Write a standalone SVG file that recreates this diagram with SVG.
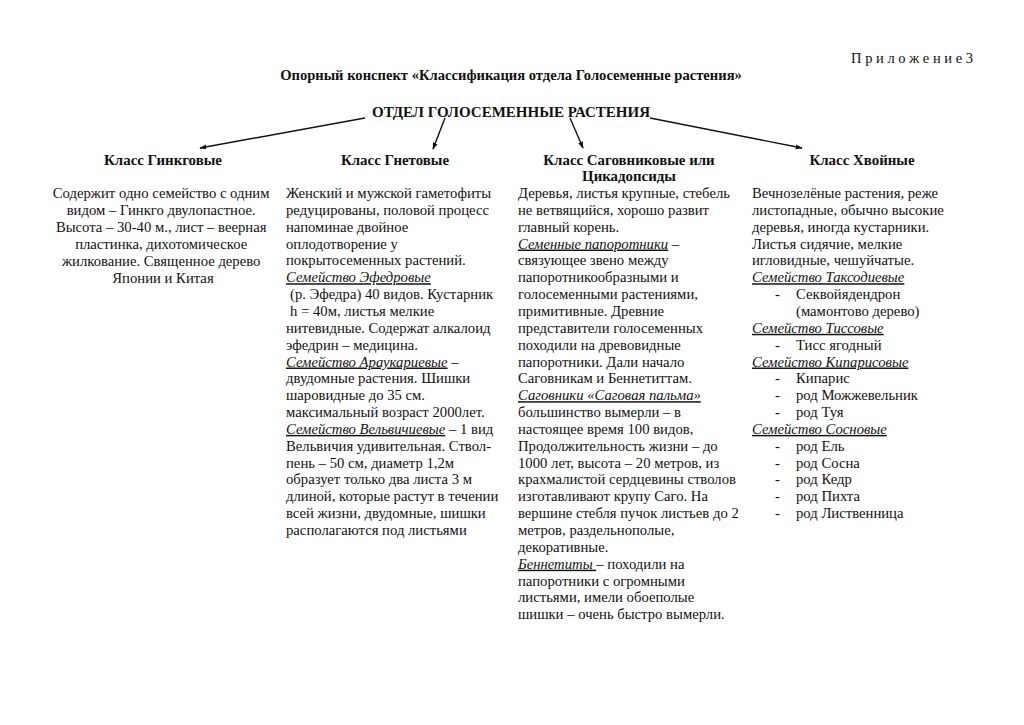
<svg xmlns="http://www.w3.org/2000/svg" width="1024" height="725" viewBox="0 0 1024 725">
<defs>
<style>
text{font-family:"Liberation Serif","Times New Roman",serif;fill:#111;}
.b{font-weight:bold;font-size:14.6px;}
.t{font-size:14.7px;}
.h{font-weight:bold;font-size:14.9px;text-anchor:middle;}
.c{text-anchor:middle;}
.u{font-style:italic;text-decoration:underline;}
.con line{stroke:#111;stroke-width:1.4;marker-end:url(#ah);}
</style>
<marker id="ah" viewBox="0 0 10 10" refX="9" refY="5" markerWidth="7" markerHeight="7" orient="auto" markerUnits="userSpaceOnUse">
<path d="M0,1.5 L10,5 L0,8.5 Z" fill="#111"/>
</marker>
</defs>
<rect width="1024" height="725" fill="#fff"/>
<text x="973" y="63" text-anchor="end" font-size="14.5">П р и л о ж е н и е 3</text>
<text class="b" x="511" y="80" text-anchor="middle">Опорный конспект «Классификация отдела Голосеменные растения»</text>
<g id="root"><text x="511" y="117" text-anchor="middle" font-weight="bold" font-size="15">ОТДЕЛ ГОЛОСЕМЕННЫЕ РАСТЕНИЯ</text></g>
<g class="con" id="connectors">
<line x1="365" y1="118" x2="200" y2="148"/>
<line x1="445" y1="118" x2="433" y2="149"/>
<line x1="570" y1="118" x2="583" y2="148"/>
<line x1="650" y1="118" x2="802" y2="148"/>
</g>
<g id="ginkgo">
<text class="h" x="163" y="165">Класс Гинкговые</text>
<text class="t c">
<tspan x="163" y="198">Содержит одно семейство с одним</tspan>
<tspan x="163" y="215">видом – Гинкго двулопастное.</tspan>
<tspan x="163" y="232">Высота – 30-40 м., лист – веерная</tspan>
<tspan x="163" y="249">пластинка, дихотомическое</tspan>
<tspan x="163" y="266">жилкование. Священное дерево</tspan>
<tspan x="163" y="283">Японии и Китая</tspan>
</text>
</g>
<g id="gnetum">
<text class="h" x="395" y="165">Класс Гнетовые</text>
<text class="t">
<tspan x="286" y="198">Женский и мужской гаметофиты</tspan>
<tspan x="286" y="214.85">редуцированы, половой процесс</tspan>
<tspan x="286" y="231.7">напоминае двойное</tspan>
<tspan x="286" y="248.55">оплодотворение у</tspan>
<tspan x="286" y="265.4">покрытосеменных растений.</tspan>
<tspan x="286" y="282.25" class="u">Семейство Эфедровые</tspan>
<tspan x="290" y="299.1">(р. Эфедра) 40 видов. Кустарник</tspan>
<tspan x="290" y="315.95">h = 40м, листья мелкие</tspan>
<tspan x="286" y="332.8">нитевидные. Содержат алкалоид</tspan>
<tspan x="286" y="349.65">эфедрин – медицина.</tspan>
<tspan x="286" y="366.5"><tspan class="u">Семейство Араукариевые</tspan> –</tspan>
<tspan x="286" y="383.35">двудомные растения. Шишки</tspan>
<tspan x="286" y="400.2">шаровидные до 35 см.</tspan>
<tspan x="286" y="417.05">максимальный возраст 2000лет.</tspan>
<tspan x="286" y="433.9"><tspan class="u">Семейство Вельвичиевые</tspan> – 1 вид</tspan>
<tspan x="286" y="450.75">Вельвичия удивительная. Ствол-</tspan>
<tspan x="286" y="467.6">пень – 50 см, диаметр 1,2м</tspan>
<tspan x="286" y="484.45">образует только два листа 3 м</tspan>
<tspan x="286" y="501.3">длиной, которые растут в течении</tspan>
<tspan x="286" y="518.15">всей жизни, двудомные, шишки</tspan>
<tspan x="286" y="535">располагаются под листьями</tspan>
</text>
</g>
<g id="cycad">
<text class="h"><tspan x="629" y="165">Класс Саговниковые или</tspan><tspan x="629" y="181">Цикадопсиды</tspan></text>
<text class="t">
<tspan x="518" y="198">Деревья, листья крупные, стебель</tspan>
<tspan x="518" y="214.85">не ветвящийся, хорошо развит</tspan>
<tspan x="518" y="231.7">главный корень.</tspan>
<tspan x="518" y="248.55"><tspan class="u">Семенные папоротники</tspan> –</tspan>
<tspan x="518" y="265.4">связующее звено между</tspan>
<tspan x="518" y="282.25">папоротникообразными и</tspan>
<tspan x="518" y="299.1">голосеменными растениями,</tspan>
<tspan x="518" y="315.95">примитивные. Древние</tspan>
<tspan x="518" y="332.8">представители голосеменных</tspan>
<tspan x="518" y="349.65">походили на древовидные</tspan>
<tspan x="518" y="366.5">папоротники. Дали начало</tspan>
<tspan x="518" y="383.35">Саговникам и Беннетиттам.</tspan>
<tspan x="518" y="400.2" class="u">Саговники «Саговая пальма»</tspan>
<tspan x="518" y="417.05">большинство вымерли – в</tspan>
<tspan x="518" y="433.9">настоящее время 100 видов,</tspan>
<tspan x="518" y="450.75">Продолжительность жизни – до</tspan>
<tspan x="518" y="467.6">1000 лет, высота – 20 метров, из</tspan>
<tspan x="518" y="484.45">крахмалистой сердцевины стволов</tspan>
<tspan x="518" y="501.3">изготавливают крупу Саго. На</tspan>
<tspan x="518" y="518.15">вершине стебля пучок листьев до 2</tspan>
<tspan x="518" y="535">метров, раздельнополые,</tspan>
<tspan x="518" y="551.85">декоративные.</tspan>
<tspan x="518" y="568.7"><tspan class="u">Беннетиты </tspan>– походили на</tspan>
<tspan x="518" y="585.55">папоротники с огромными</tspan>
<tspan x="518" y="602.4">листьями, имели обоеполые</tspan>
<tspan x="518" y="619.25">шишки – очень быстро вымерли.</tspan>
</text>
</g>
<g id="conifers">
<text class="h" x="862" y="165">Класс Хвойные</text>
<text class="t">
<tspan x="752" y="198">Вечнозелёные растения, реже</tspan>
<tspan x="752" y="214.85">листопадные, обычно высокие</tspan>
<tspan x="752" y="231.7">деревья, иногда кустарники.</tspan>
<tspan x="752" y="248.55">Листья сидячие, мелкие</tspan>
<tspan x="752" y="265.4">игловидные, чешуйчатые.</tspan>
<tspan x="752" y="282.25" class="u">Семейство Таксодиевые</tspan>
<tspan x="775" y="299.1">-</tspan><tspan x="796" y="299.1">Секвойядендрон</tspan>
<tspan x="796" y="315.95">(мамонтово дерево)</tspan>
<tspan x="752" y="332.8" class="u">Семейство Тиссовые</tspan>
<tspan x="775" y="349.65">-</tspan><tspan x="796" y="349.65">Тисс ягодный</tspan>
<tspan x="752" y="366.5" class="u">Семейство Кипарисовые</tspan>
<tspan x="775" y="383.35">-</tspan><tspan x="796" y="383.35">Кипарис</tspan>
<tspan x="775" y="400.2">-</tspan><tspan x="796" y="400.2">род Можжевельник</tspan>
<tspan x="775" y="417.05">-</tspan><tspan x="796" y="417.05">род Туя</tspan>
<tspan x="752" y="433.9" class="u">Семейство Сосновые</tspan>
<tspan x="775" y="450.75">-</tspan><tspan x="796" y="450.75">род Ель</tspan>
<tspan x="775" y="467.6">-</tspan><tspan x="796" y="467.6">род Сосна</tspan>
<tspan x="775" y="484.45">-</tspan><tspan x="796" y="484.45">род Кедр</tspan>
<tspan x="775" y="501.3">-</tspan><tspan x="796" y="501.3">род Пихта</tspan>
<tspan x="775" y="518.15">-</tspan><tspan x="796" y="518.15">род Лиственница</tspan>
</text>
</g>
</svg>
